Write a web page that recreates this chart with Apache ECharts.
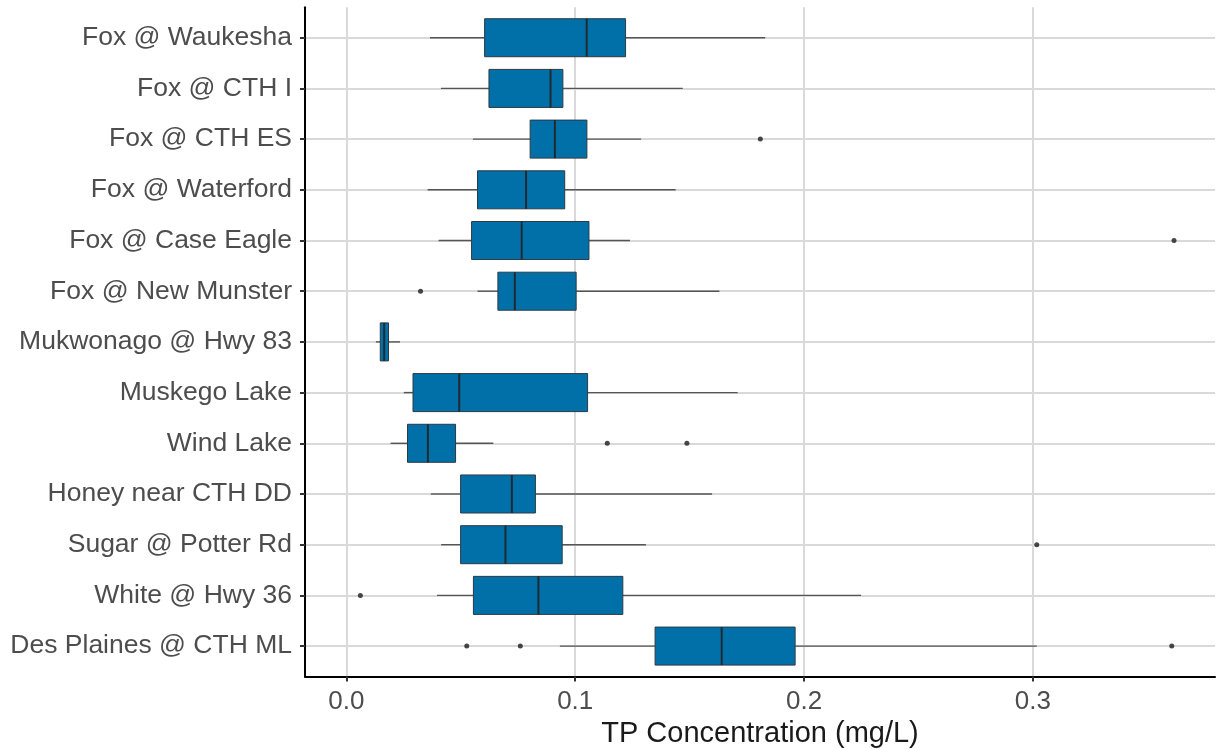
<!DOCTYPE html>
<html>
<head>
<meta charset="utf-8">
<script src="https://cdn.jsdelivr.net/npm/echarts@6/dist/echarts.min.js"></script>
<style>
html,body{margin:0;padding:0;background:#fff;}
#chart{width:1219px;height:749px;}
</style>
</head>
<body>
<div id="chart"></div>
<script>
const categories = ["Fox @ Waukesha","Fox @ CTH I","Fox @ CTH ES","Fox @ Waterford","Fox @ Case Eagle","Fox @ New Munster","Mukwonago @ Hwy 83","Muskego Lake","Wind Lake","Honey near CTH DD","Sugar @ Potter Rd","White @ Hwy 36","Des Plaines @ CTH ML"];
const mins    = [0.0365,0.0413,0.0553,0.0355,0.0403,0.0573,0.0129,0.0251,0.0193,0.0369,0.0414,0.0396,0.0933];
const q1s     = [0.0604,0.0623,0.0803,0.0573,0.0547,0.0662,0.0148,0.0291,0.0267,0.0499,0.0499,0.0555,0.1349];
const medians = [0.1050,0.0892,0.0911,0.0785,0.0766,0.0736,0.0165,0.0493,0.0356,0.0723,0.0695,0.0839,0.1640];
const q3s     = [0.1220,0.0946,0.1051,0.0954,0.1060,0.1004,0.0184,0.1054,0.0477,0.0826,0.0943,0.1208,0.1961];
const maxs    = [0.1830,0.1470,0.1288,0.1439,0.1239,0.1630,0.0234,0.1710,0.0642,0.1598,0.1309,0.2249,0.3017];
const outlierCat = ["Fox @ CTH ES","Fox @ Case Eagle","Fox @ New Munster","Wind Lake","Wind Lake","Sugar @ Potter Rd","White @ Hwy 36","Des Plaines @ CTH ML","Des Plaines @ CTH ML","Des Plaines @ CTH ML"];
const outlierVal = [0.1809,0.3617,0.0324,0.1140,0.1488,0.3017,0.0061,0.0526,0.0760,0.3607];
const xTickValues = [0, 0.1, 0.2, 0.3];
const xTickLabels = ["0.0","0.1","0.2","0.3"];
const xTitle = "TP Concentration (mg/L)";

const boxData = categories.map((c, i) => [i, mins[i], q1s[i], medians[i], q3s[i], maxs[i]]);
const outData = outlierVal.map((v, k) => [v, categories.indexOf(outlierCat[k])]);
const catIdx = categories.map((c, i) => i);

const chart = echarts.init(document.getElementById('chart'), null, {renderer: 'canvas'});
const FONT = '"Liberation Sans", Arial, sans-serif';

function renderBox(params, api) {
  const idx = api.value(0);
  const pMin = api.coord([api.value(1), idx]);
  const pQ1 = api.coord([api.value(2), idx]);
  const pMed = api.coord([api.value(3), idx]);
  const pQ3 = api.coord([api.value(4), idx]);
  const pMax = api.coord([api.value(5), idx]);
  const band = api.size([0, 1])[1];
  const h = band * 0.75;
  const y = pMed[1];
  return {
    type: 'group',
    children: [
      {type: 'line', shape: {x1: pMin[0], y1: y, x2: pQ1[0], y2: y}, style: {stroke: '#555555', lineWidth: 1.4}},
      {type: 'line', shape: {x1: pQ3[0], y1: y, x2: pMax[0], y2: y}, style: {stroke: '#555555', lineWidth: 1.4}},
      {type: 'rect', shape: {x: pQ1[0], y: y - h / 2, width: pQ3[0] - pQ1[0], height: h}, style: {fill: '#0270A8', stroke: '#2b3a44', lineWidth: 1}},
      {type: 'line', shape: {x1: pMed[0], y1: y - h / 2, x2: pMed[0], y2: y + h / 2}, style: {stroke: '#1f2a30', lineWidth: 2}}
    ]
  };
}

chart.setOption({
  animation: false,
  backgroundColor: '#ffffff',
  grid: {left: 305, right: 4, top: 7.3, bottom: 72.5, containLabel: false, outerBoundsMode: 'none'},
  xAxis: {
    type: 'value',
    min: -0.0181,
    max: 0.3796,
    name: xTitle,
    nameLocation: 'middle',
    nameGap: 40,
    nameTextStyle: {fontFamily: FONT, fontSize: 29, color: '#1a1a1a'},
    axisLine: {show: true, onZero: false, lineStyle: {color: '#000', width: 2}},
    axisTick: {show: true, length: 5, customValues: xTickValues, lineStyle: {color: '#333', width: 2}},
    axisLabel: {
      customValues: xTickValues,
      margin: 12,
      fontFamily: FONT, fontSize: 26, color: '#4D4D4D',
      formatter: (v) => xTickLabels[xTickValues.findIndex(t => Math.abs(t - v) < 1e-9)]
    },
    splitLine: {show: true, lineStyle: {color: '#D9D9D9', width: 2}}
  },
  yAxis: {
    type: 'value',
    inverse: true,
    min: -0.6,
    max: 12.6,
    axisLine: {show: true, onZero: false, lineStyle: {color: '#000', width: 2}},
    axisTick: {show: true, length: 5, customValues: catIdx, lineStyle: {color: '#333', width: 2}},
    axisLabel: {
      customValues: catIdx,
      margin: 13,
      fontFamily: FONT, fontSize: 26.5, color: '#4D4D4D',
      formatter: (v) => categories[Math.round(v)]
    },
    splitLine: {show: true, lineStyle: {color: '#D9D9D9', width: 2}}
  },
  series: [
    {
      type: 'custom',
      renderItem: renderBox,
      data: boxData,
      encode: {x: [1, 2, 3, 4, 5], y: 0},
      z: 3
    },
    {
      type: 'scatter',
      data: outData,
      symbol: 'circle',
      symbolSize: 5,
      itemStyle: {color: '#1a1a1a'},
      z: 4
    }
  ]
});
</script>
</body>
</html>
